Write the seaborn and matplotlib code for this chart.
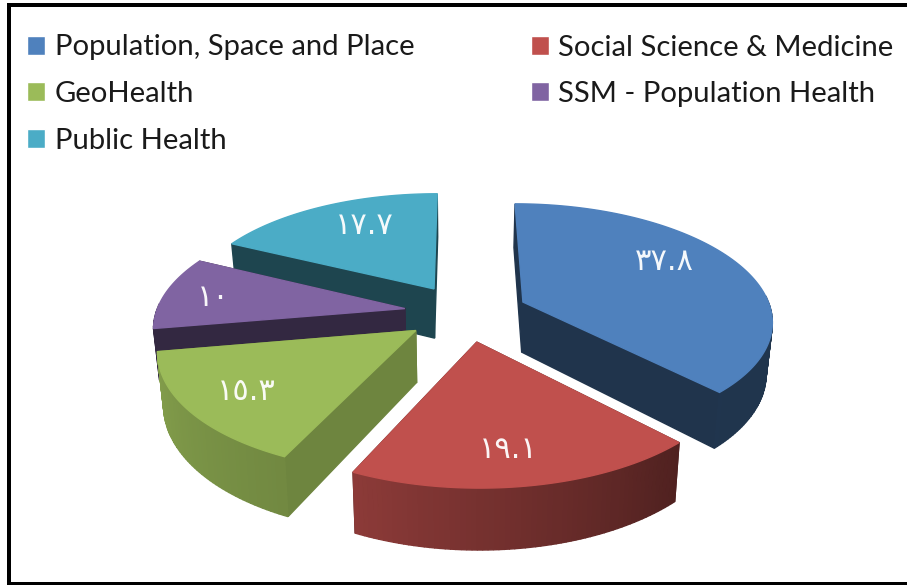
import numpy as np
import matplotlib
matplotlib.use('Agg')
import matplotlib.pyplot as plt
from matplotlib.patches import Patch, Polygon, Rectangle
import seaborn as sns

journals = ['Population, Space and Place', 'Social Science & Medicine', 'GeoHealth',
            'SSM - Population Health', 'Public Health']
shares = [37.8, 19.1, 15.3, 10, 17.7]
share_labels = ['٣٧.٨', '١٩.١', '١٥.٣', '١٠', '١٧.٧']

palette = sns.color_palette(['#4F81BD', '#C0504D', '#9BBB59', '#8064A2', '#4BACC6'])

# pixel position of each label, the wall shade and the order the slices are painted in
label_xy = [(664, 262), (508, 449), (246, 392), (213, 297), (364, 225)]
wall_shade = [0.40, 0.40, 0.71, 0.40, 0.40]
paint_order = [4, 3, 2, 0, 1]


def project(x, y, bottom=False):
    # ground plane of the pie to screen pixels, vanishing point at (460, -483)
    z = 6.9 + y
    px = 1716 * (x + 0.0245) / z
    py = -483 + 5490 / z
    if bottom:
        return 460 + 0.98 * px, py + 350 / z
    return 460 + px, py


def arc_shade(theta):
    # theta runs clockwise from the top of the pie
    return np.interp(theta % 360, [0, 136, 205, 260, 261, 360], [0.40, 0.41, 0.73, 0.85, 0.40, 0.40])


def side_face(p0, p1):
    top0, top1 = project(*p0), project(*p1)
    return [top0, top1, project(*p1, bottom=True), project(*p0, bottom=True)]


sns.set_theme(style='white')
fig = plt.figure(figsize=(9.07, 5.85), dpi=100)
ax = fig.add_axes([0, 0, 1, 1])

# the pie gives the angles and the exploded centres, perspective is applied afterwards
wedges, _ = ax.pie(shares, explode=[0.25] * len(shares), startangle=90, counterclock=False)
ax.set_aspect('auto')
ax.set_xlim(0, 907)
ax.set_ylim(585, 0)
ax.axis('off')

for i in paint_order:
    w = wedges[i]
    w.set_visible(False)
    cx, cy = w.center
    color = np.array(palette[i])
    angles = np.linspace(w.theta1, w.theta2, max(int(w.theta2 - w.theta1), 2))
    rim = np.column_stack([cx + np.cos(np.radians(angles)), cy + np.sin(np.radians(angles))])
    apex = (cx, cy)

    faces = [(side_face(apex, rim[0]), wall_shade[i], (cy + rim[0][1]) / 2),
             (side_face(apex, rim[-1]), wall_shade[i], (cy + rim[-1][1]) / 2)]
    for a, p0, p1 in zip(angles[:-1], rim[:-1], rim[1:]):
        # the back of the rim is hidden by the top face anyway
        if np.sin(np.radians(a)) > 0.05:
            continue
        faces.append((side_face(p0, p1), arc_shade(90 - a), (p0[1] + p1[1]) / 2))
    for pts, shade, _depth in sorted(faces, key=lambda f: -f[2]):
        c = color * shade
        ax.add_patch(Polygon(pts, closed=True, facecolor=c, edgecolor=c, linewidth=1.0))

    top = [project(*apex)] + [project(x, y) for x, y in rim]
    ax.add_patch(Polygon(top, closed=True, facecolor=color, edgecolor=color, linewidth=1.0))

for text, (x, y) in zip(share_labels, label_xy):
    ax.text(x, y, text, color='white', fontsize=22, ha='center', va='center',
            family='DejaVu Sans', alpha=0.95)

# column first in a legend, so the rows of the reference need this order
legend_order = [0, 2, 4, 1, 3]
handles = [Patch(facecolor=palette[i], label=journals[i]) for i in legend_order]
ax.legend(handles=handles, loc='upper left', bbox_to_anchor=(27 / 907, 1 - 34.5 / 585), ncol=2,
          frameon=False, prop={'family': 'Lato', 'size': 21.1},
          handlelength=0.61, handleheight=0.61, handletextpad=0.33,
          labelspacing=0.70, columnspacing=3.98, borderpad=0, borderaxespad=0, labelcolor='#1a1a1a')

# black frame, open on the right
ax.add_patch(Rectangle((7, 2.5), 900, 4, facecolor='black', edgecolor='none'))
ax.add_patch(Rectangle((7, 2.5), 4, 583, facecolor='black', edgecolor='none'))
ax.add_patch(Rectangle((7, 582), 900, 3, facecolor='black', edgecolor='none'))

plt.savefig('out.png', dpi=100)
plt.close(fig)
